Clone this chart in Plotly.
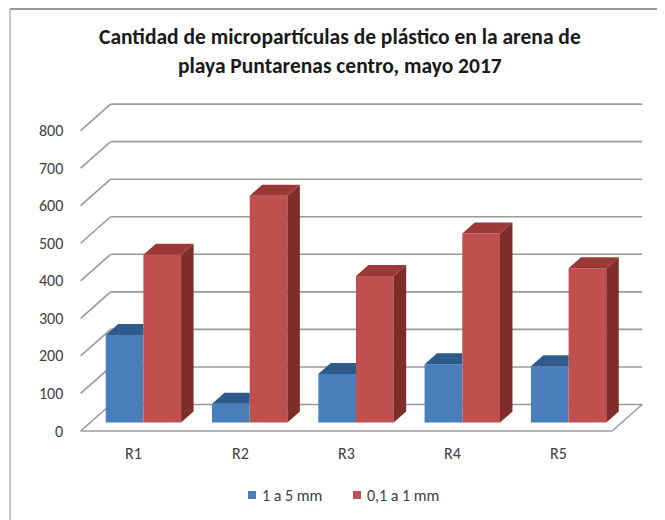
import plotly.graph_objects as go

# ---------------- data ----------------
categories = ["R1", "R2", "R3", "R4", "R5"]
series_names = ["1 a 5 mm", "0,1 a 1 mm"]
values_1a5 = [233, 50, 129, 155, 150]
values_01a1 = [447, 604, 390, 503, 411]
y_ticks = [0, 100, 200, 300, 400, 500, 600, 700, 800]
title_lines = ["Cantidad de micropartículas de plástico en la arena de",
               "playa Puntarenas centro, mayo 2017"]

# ---------------- geometry (pseudo-3D oblique projection) ----------------
OFF = 8                      # page body margin of the browser
W, H = 665 - OFF, 520 - OFF  # figure size so the page fits the window
PX_X = 106.3                 # pixels per category
PX_Y = 0.3755                # pixels per value unit
X0_PX = 143.4 - OFF          # figure-pixel x of first category (bar front plane)
Y0_PX = 422.5 - OFF          # figure-pixel y of value 0 (bar front plane)
SLOPE = 30 / 26.5            # horizontal px per vertical px of depth
Z_BACK, Z_BARBACK, Z_BAR, Z_FRONT = 0.0, 7.0, 18.0, 26.5
BAR_W = 0.3547

FONT = "Carlito, Lato, sans-serif"
BLUE, BLUE_TOP = "#4A7EBB", "#2F5A8C"
RED, RED_TOP, RED_SIDE = "#C0504D", "#9C3835", "#7E2D2B"
GRID = "#9A9A9A"
TXT = "#404040"


def proj(xc, v, z):
    return xc + (Z_BAR - z) * SLOPE / PX_X, v - (z - Z_BAR) / PX_Y


def paper_x(sx):
    return (sx - OFF) / W


def paper_y(sy):
    return 1 - (sy - OFF) / H


x_range = [-X0_PX / PX_X, (W - X0_PX) / PX_X]
y_range = [-(H - Y0_PX) / PX_Y, Y0_PX / PX_Y]

n = len(categories)
xs = list(range(n))

fig = go.Figure()

fig.add_trace(go.Bar(x=xs, y=values_1a5, name=series_names[0], marker=dict(color=BLUE, line_width=0),
                     hovertext=categories, showlegend=False))
fig.add_trace(go.Bar(x=xs, y=values_01a1, name=series_names[1], marker=dict(color=RED, line_width=0),
                     hovertext=categories, showlegend=False))

ddx = (Z_BAR - Z_BARBACK) * SLOPE / PX_X
ddy = (Z_BAR - Z_BARBACK) / PX_Y


def poly_trace(polys, color):
    px, py = [], []
    for p in polys:
        for (a, b) in p + [p[0]]:
            px.append(a)
            py.append(b)
        px.append(None)
        py.append(None)
    return go.Scatter(x=px, y=py, mode="lines", fill="toself", fillcolor=color,
                      line=dict(width=0, color=color), showlegend=False, hoverinfo="skip")


blue_tops, red_tops, red_sides = [], [], []
for i in xs:
    h = values_1a5[i]
    x0, x1 = i - BAR_W, i
    blue_tops.append([(x0, h), (x1, h), (x1, h + ddy), (x0 + ddx, h + ddy)])
    h = values_01a1[i]
    x0, x1 = i, i + BAR_W
    red_tops.append([(x0, h), (x1, h), (x1 + ddx, h + ddy), (x0 + ddx, h + ddy)])
    red_sides.append([(x1, 0), (x1, h), (x1 + ddx, h + ddy), (x1 + ddx, ddy)])

fig.add_trace(poly_trace(blue_tops, BLUE_TOP))
fig.add_trace(poly_trace(red_sides, RED_SIDE))
fig.add_trace(poly_trace(red_tops, RED_TOP))

# gridlines: back wall + left diagonal + floor
left, right = -0.5, n - 0.5
shapes = []


def seg(p, q, width=1.6):
    shapes.append(dict(type="line", xref="x", yref="y", x0=p[0], y0=p[1], x1=q[0], y1=q[1],
                       line=dict(color=GRID, width=width), layer="below"))


for t in y_ticks:
    seg(proj(left, t, Z_BACK), proj(right, t, Z_BACK))
    seg(proj(left, t, Z_BACK), proj(left, t, Z_FRONT))
seg(proj(left, 0, Z_FRONT), proj(right, 0, Z_FRONT))
seg(proj(right, 0, Z_BACK), proj(right, 0, Z_FRONT))

# chart border (top and left edges visible)
shapes.append(dict(type="line", xref="paper", yref="paper", x0=paper_x(10), y0=1 - 1 / H, x1=1, y1=1 - 1 / H,
                   line=dict(color="#9A9A9A", width=2)))
shapes.append(dict(type="line", xref="paper", yref="paper", x0=paper_x(10), y0=1 - 1 / H, x1=paper_x(10), y1=0,
                   line=dict(color="#C4C4C4", width=2)))

annotations = []
for t in y_ticks:
    ax, ay = proj(left, t, Z_FRONT)
    annotations.append(dict(x=ax, y=ay, xref="x", yref="y", text=str(t), showarrow=False,
                            xanchor="right", yanchor="middle", xshift=-16,
                            font=dict(family=FONT, size=16, color=TXT)))
for i, c in enumerate(categories):
    ax, ay = proj(i, 0, Z_FRONT)
    annotations.append(dict(x=ax, y=ay, xref="x", yref="y", text=c, showarrow=False,
                            xanchor="center", yanchor="middle", yshift=-22,
                            font=dict(family=FONT, size=16, color=TXT)))
for k, line in enumerate(title_lines):
    annotations.append(dict(x=paper_x(340), y=paper_y(37 + 29 * k), xref="paper", yref="paper",
                            text="<b>%s</b>" % line,
                            showarrow=False, xanchor="center", yanchor="middle",
                            font=dict(family=FONT, size=21.5, color="#1A1A1A")))

# legend (swatch + label for each series)
legend_pos = [252, 357]
legend_colors = [BLUE, RED]
for name, sx, col in zip(series_names, legend_pos, legend_colors):
    shapes.append(dict(type="rect", xref="paper", yref="paper",
                       x0=paper_x(sx - 4), x1=paper_x(sx + 4), y0=paper_y(499), y1=paper_y(491),
                       fillcolor=col, line=dict(width=0)))
    annotations.append(dict(x=paper_x(sx + 8), y=paper_y(495), xref="paper", yref="paper", text=name,
                            showarrow=False, xanchor="left", yanchor="middle",
                            font=dict(family=FONT, size=16, color=TXT)))

fig.update_layout(
    width=W, height=H,
    margin=dict(l=0, r=0, t=0, b=0),
    paper_bgcolor="white", plot_bgcolor="white",
    barmode="group", bargap=1 - 2 * BAR_W, bargroupgap=0,
    xaxis=dict(range=x_range, visible=False, fixedrange=True),
    yaxis=dict(range=y_range, visible=False, fixedrange=True),
    shapes=shapes, annotations=annotations,
    showlegend=False,
)

fig.write_html("out.html")
